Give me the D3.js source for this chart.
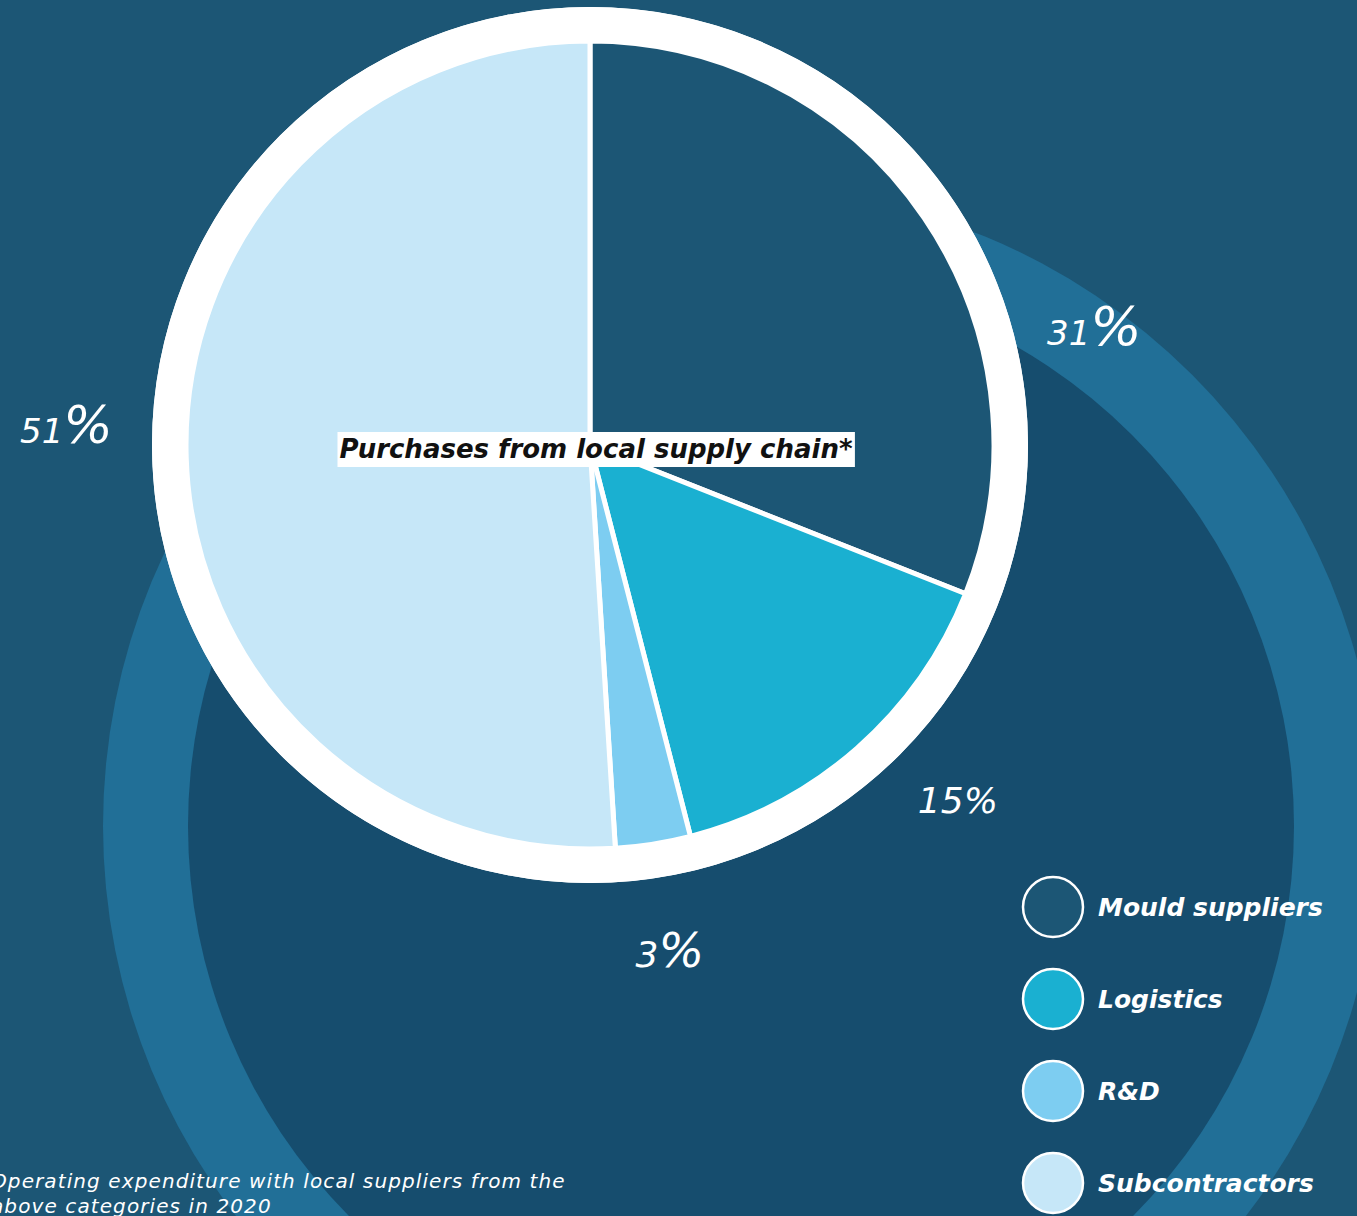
<!DOCTYPE html>
<html>
<head>
<meta charset="utf-8">
<script src="https://cdn.jsdelivr.net/npm/d3@7"></script>
<style>
  html, body { margin: 0; padding: 0; background: #1c5675; overflow: hidden; }
  svg { display: block; }
  text { font-family: "DejaVu Sans", "Open Sans", sans-serif; font-style: italic; }
</style>
</head>
<body>
<svg id="chart" width="1357" height="1216"></svg>
<script>
// Share of operating expenditure with local suppliers, 2020
const categories = ["Mould suppliers", "Logistics", "R&D", "Subcontractors"];
const shares = [31, 15, 3, 51];
const colors = ["#1c5675", "#1ab0d1", "#7dcdf1", "#c6e7f8"];
const centerTitle = "Purchases from local supply chain*";
const footnote = ["Operating expenditure with local suppliers from the", "above categories in 2020"];

const W = 1357, H = 1216;
const svg = d3.select("#chart");

// backdrop
svg.append("rect").attr("width", W).attr("height", H).attr("fill", "#1c5675");

// decorative ring behind the pie
const deco = svg.append("g").attr("transform", "translate(741,826)");
deco.append("circle").attr("r", 638).attr("fill", "#216f97");
deco.append("circle").attr("r", 553).attr("fill", "#164d6e");

// pie
const cx = 590, cy = 445, R = 404;
const g = svg.append("g").attr("transform", `translate(${cx},${cy})`);
g.append("circle").attr("r", 438).attr("fill", "#ffffff");

const data = categories.map((c, i) => ({ name: c, value: shares[i], color: colors[i] }));
const pie = d3.pie().value(d => d.value).sort(null);
const arcs = pie(data);
const arc = d3.arc().innerRadius(0).outerRadius(R);

g.selectAll("path.slice")
  .data(arcs)
  .join("path")
  .attr("class", "slice")
  .attr("d", arc)
  .attr("fill", d => d.data.color)
  .attr("stroke", "#ffffff")
  .attr("stroke-width", 5)
  .attr("stroke-linejoin", "round");

// white rim over the slice edges
g.append("circle").attr("r", R + 17).attr("fill", "none")
  .attr("stroke", "#ffffff").attr("stroke-width", 34);

// percentage labels outside the rim
const labelR = [518, 508, 510, 524];
const labelTurn = [21, -5, 0, 4];            // degrees, nudges from each slice's mid-angle
const digitSize = [34, 36, 36, 34];
const pctSize = [54, 36, 48, 52];
arcs.forEach((a, i) => {
  const mid = (a.startAngle + a.endAngle) / 2 + labelTurn[i] * Math.PI / 180;
  const [x, y] = d3.pointRadial(mid, labelR[i]);
  const t = g.append("text")
    .attr("x", x).attr("y", y + 18)
    .attr("text-anchor", "middle")
    .attr("fill", "#ffffff")
    .attr("font-weight", 400);
  t.append("tspan").attr("font-size", digitSize[i]).text(shares[i]);
  t.append("tspan").attr("font-size", pctSize[i]).text("%");
});

// centre title on a white plate
const title = g.append("text")
  .attr("x", 6).attr("y", 13)
  .attr("text-anchor", "middle")
  .attr("font-size", 26)
  .attr("font-weight", 700)
  .attr("fill", "#111111")
  .text(centerTitle);
const bb = title.node().getBBox();
g.insert("rect", "text")
  .attr("x", bb.x - 2).attr("y", -13)
  .attr("width", bb.width + 4).attr("height", 35)
  .attr("fill", "#ffffff");

// legend
const legend = svg.append("g").attr("transform", "translate(1053,907)");
const rows = legend.selectAll("g.row").data(data).join("g")
  .attr("class", "row")
  .attr("transform", (d, i) => `translate(0,${i * 92})`);
rows.append("circle").attr("r", 30)
  .attr("fill", d => d.color)
  .attr("stroke", "#ffffff").attr("stroke-width", 2.5);
rows.append("text")
  .attr("x", 45).attr("y", 9)
  .attr("font-size", 25).attr("font-weight", 700)
  .attr("fill", "#ffffff")
  .text(d => d.name);

// footnote
svg.append("g").selectAll("text").data(footnote).join("text")
  .attr("x", -9).attr("y", (d, i) => 1188 + i * 25)
  .attr("font-size", 20).attr("font-weight", 400)
  .attr("letter-spacing", 1.1)
  .attr("fill", "#ffffff")
  .text(d => d);
</script>
</body>
</html>
